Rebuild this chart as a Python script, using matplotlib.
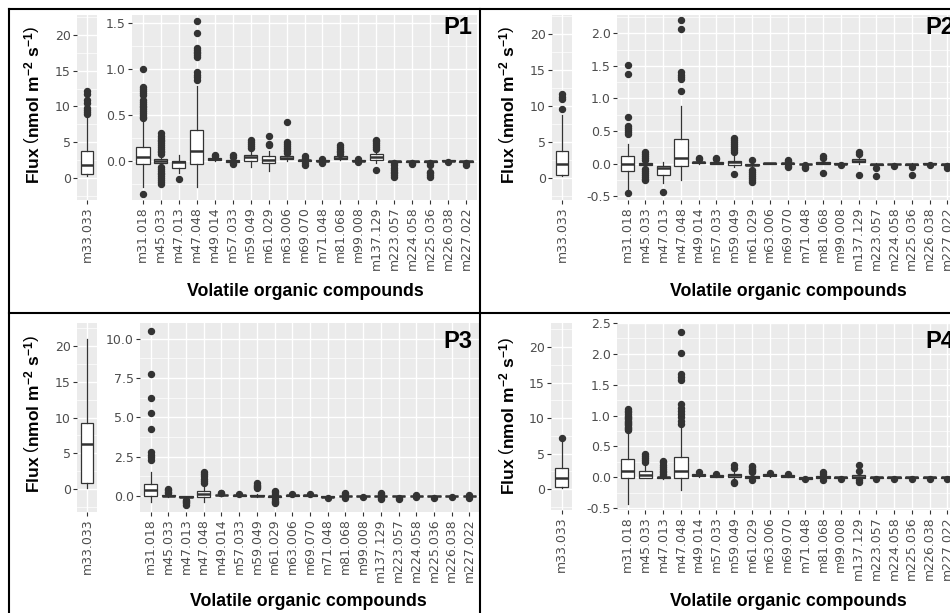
import matplotlib
matplotlib.use('Agg')
import matplotlib.pyplot as plt
from matplotlib.lines import Line2D
from matplotlib.ticker import FixedLocator, FormatStrFormatter

compounds = ['m31.018', 'm45.033', 'm47.013', 'm47.048', 'm49.014', 'm57.033',
             'm59.049', 'm61.029', 'm63.006', 'm69.070', 'm71.048', 'm81.068',
             'm99.008', 'm137.129', 'm223.057', 'm224.058', 'm225.036',
             'm226.038', 'm227.022']
small_cmp = ['m33.033']
panels = ['P1', 'P2', 'P3', 'P4']

# m33.033 box for each panel
m33_lo = [0.3, 0.3, 0.1, 0.2]
m33_q1 = [0.6, 0.4, 0.9, 0.3]
m33_med = [1.8, 2.0, 6.25, 1.5]
m33_q3 = [3.8, 3.8, 9.2, 2.9]
m33_hi = [8.5, 8.8, 20.9, 6.8]
m33_out = [[8.9, 9.2, 9.5, 9.8, 10.5, 10.9, 11.8, 12.2],
           [9.5, 11.0, 11.3, 11.6],
           [],
           [7.2]]

# P1
p1_lo = [-0.29, -0.05, -0.14, -0.29, 0.0, -0.02, -0.065, -0.11, 0.0, -0.01, -0.01, 0.01, -0.01, -0.03, -0.02, -0.02, -0.02, -0.01, -0.02]
p1_q1 = [-0.04, -0.025, -0.08, -0.04, 0.01, -0.01, 0.0, -0.03, 0.02, 0.0, -0.005, 0.02, -0.005, 0.01, -0.01, -0.01, -0.01, -0.005, -0.01]
p1_med = [0.035, 0.0, -0.02, 0.10, 0.015, 0.0, 0.035, 0.005, 0.03, 0.005, 0.0, 0.03, 0.0, 0.04, -0.005, 0.0, -0.005, 0.0, -0.005]
p1_q3 = [0.145, 0.02, -0.005, 0.33, 0.025, 0.01, 0.065, 0.05, 0.045, 0.01, 0.005, 0.045, 0.005, 0.075, 0.0, 0.0, 0.0, 0.005, 0.0]
p1_hi = [0.43, 0.05, 0.06, 0.82, 0.04, 0.03, 0.12, 0.11, 0.07, 0.02, 0.01, 0.05, 0.01, 0.12, 0.01, 0.01, 0.01, 0.01, 0.01]
p1_out = [
    [0.46, 0.48, 0.50, 0.52, 0.54, 0.56, 0.58, 0.60, 0.62, 0.64, 0.66, 0.72, 0.74, 0.76, 0.78, 0.80, 1.0, -0.36],
    [0.07, 0.09, 0.11, 0.13, 0.15, 0.17, 0.19, 0.21, 0.23, 0.25, 0.27, 0.30,
     -0.07, -0.09, -0.11, -0.13, -0.15, -0.17, -0.19, -0.21, -0.23, -0.25],
    [-0.2],
    [0.88, 0.91, 0.94, 0.97, 1.13, 1.15, 1.17, 1.19, 1.21, 1.23, 1.39, 1.52],
    [0.05, 0.06],
    [0.04, 0.06, -0.03, -0.04],
    [0.14, 0.16, 0.18, 0.20, 0.22],
    [0.17, 0.18, 0.27],
    [0.08, 0.10, 0.12, 0.14, 0.16, 0.18, 0.20, 0.42],
    [0.03, 0.05, -0.03, -0.05],
    [0.02, -0.02, -0.03],
    [0.07, 0.09, 0.11, 0.13, 0.15, 0.17],
    [0.02, -0.02],
    [0.13, 0.15, 0.17, 0.19, 0.21, 0.23, -0.10],
    [-0.03, -0.05, -0.08, -0.10, -0.12, -0.14, -0.16, -0.18],
    [-0.03, -0.04],
    [-0.03, -0.05, -0.12, -0.14, -0.16, -0.18],
    [-0.02],
    [-0.03, -0.05]]

# P2
p2_lo = [-0.42, -0.05, -0.30, -0.25, 0.0, -0.01, -0.06, -0.06, -0.005, -0.02, -0.02, -0.01, -0.02, 0.0, -0.04, -0.03, -0.04, -0.01, -0.03]
p2_q1 = [-0.11, -0.03, -0.18, -0.045, 0.01, 0.0, -0.03, -0.03, 0.0, -0.005, -0.01, 0.0, -0.01, 0.02, -0.02, -0.015, -0.02, -0.005, -0.02]
p2_med = [-0.015, 0.0, -0.07, 0.08, 0.02, 0.01, 0.02, -0.02, 0.005, 0.005, -0.005, 0.01, 0.0, 0.04, -0.01, -0.01, -0.01, 0.0, -0.01]
p2_q3 = [0.12, 0.005, -0.04, 0.37, 0.03, 0.02, 0.045, 0.0, 0.01, 0.01, 0.0, 0.02, 0.005, 0.07, 0.0, 0.0, 0.0, 0.005, 0.0]
p2_hi = [0.30, 0.04, 0.03, 0.88, 0.05, 0.04, 0.12, 0.03, 0.015, 0.03, 0.01, 0.04, 0.01, 0.10, 0.01, 0.01, 0.01, 0.01, 0.01]
p2_out = [
    [0.46, 0.49, 0.52, 0.55, 0.58, 0.72, 1.38, 1.51, -0.46],
    [0.06, 0.09, 0.12, 0.15, 0.18, -0.08, -0.11, -0.14, -0.17, -0.20, -0.23, -0.26],
    [-0.43],
    [1.12, 1.30, 1.33, 1.36, 1.40, 2.07, 2.20],
    [0.07, 0.08],
    [0.07, 0.08],
    [0.18, 0.21, 0.24, 0.27, 0.30, 0.33, 0.36, 0.39, -0.16],
    [0.05, -0.10, -0.13, -0.16, -0.19, -0.22, -0.25, -0.28],
    [],
    [0.04, 0.06, -0.04, -0.06],
    [-0.03, -0.05, -0.07],
    [0.08, 0.11, -0.14],
    [-0.03],
    [0.15, 0.18, -0.18],
    [-0.07, -0.19],
    [-0.04],
    [-0.06, -0.18],
    [-0.02],
    [-0.04, -0.07]]

# P3
p3_lo = [-0.36, -0.05, -0.15, -0.38, 0.0, 0.0, -0.05, -0.1, 0.0, 0.0, -0.1, -0.05, -0.04, -0.05, -0.06, -0.04, -0.05, -0.04, -0.05]
p3_q1 = [0.02, 0.0, -0.08, -0.04, 0.03, 0.02, 0.0, -0.04, 0.02, 0.02, -0.06, -0.02, -0.01, -0.02, -0.03, -0.01, -0.02, -0.01, -0.02]
p3_med = [0.38, 0.02, -0.04, 0.1, 0.05, 0.04, 0.02, -0.01, 0.04, 0.04, -0.04, 0.0, 0.0, 0.0, -0.02, 0.0, -0.01, 0.0, -0.01]
p3_q3 = [0.75, 0.06, -0.01, 0.32, 0.08, 0.06, 0.05, 0.0, 0.06, 0.06, -0.02, 0.02, 0.01, 0.02, 0.0, 0.01, 0.0, 0.01, 0.0]
p3_hi = [1.55, 0.12, 0.0, 0.75, 0.12, 0.09, 0.12, 0.05, 0.08, 0.08, 0.0, 0.05, 0.04, 0.05, 0.02, 0.04, 0.03, 0.03, 0.03]
p3_out = [
    [2.3, 2.45, 2.6, 2.8, 4.25, 5.3, 6.26, 7.75, 10.47],
    [0.2, 0.28, 0.36, 0.45],
    [-0.25, -0.32, -0.4, -0.47, -0.55],
    [0.85, 0.95, 1.05, 1.3, 1.42, 1.52],
    [0.16, 0.2],
    [0.12],
    [0.5, 0.58, 0.65, 0.72, 0.8],
    [0.15, 0.25, 0.3, -0.2, -0.3, -0.38, -0.45],
    [0.1],
    [0.12],
    [-0.12],
    [0.15, 0.22, -0.12],
    [-0.08],
    [0.12, 0.18, -0.12, -0.18],
    [-0.12, -0.2],
    [0.08, -0.06],
    [-0.15],
    [-0.08],
    [-0.1, 0.05]]

# P4
p4_lo = [-0.43, -0.01, -0.02, -0.21, 0.0, 0.0, -0.05, -0.03, 0.0, 0.0, -0.03, -0.02, -0.02, -0.03, -0.02, -0.02, -0.02, -0.02, -0.02]
p4_q1 = [-0.01, -0.005, -0.01, -0.01, 0.02, 0.01, 0.0, -0.01, 0.02, 0.01, -0.02, -0.01, -0.01, -0.01, -0.01, -0.01, -0.01, -0.01, -0.01]
p4_med = [0.097, 0.04, 0.0, 0.097, 0.03, 0.02, 0.03, 0.0, 0.03, 0.02, -0.01, 0.0, 0.0, 0.0, 0.0, 0.0, 0.0, 0.0, 0.0]
p4_q3 = [0.30, 0.097, 0.01, 0.33, 0.05, 0.04, 0.06, 0.02, 0.05, 0.03, 0.0, 0.02, 0.0, 0.03, 0.0, 0.0, 0.0, 0.0, 0.0]
p4_hi = [0.73, 0.22, 0.02, 0.84, 0.07, 0.05, 0.1, 0.05, 0.06, 0.04, 0.01, 0.04, 0.01, 0.06, 0.01, 0.01, 0.01, 0.01, 0.01]
p4_out = [
    [0.76, 0.78, 0.80, 0.82, 0.84, 0.86, 0.88, 0.90, 0.92, 0.94, 0.96, 0.98, 1.00, 1.02, 1.05, 1.08, 1.11],
    [0.25, 0.28, 0.31, 0.34, 0.37],
    [0.03, 0.05, 0.08, 0.11, 0.14, 0.17, 0.20, 0.24, 0.27],
    [0.87, 0.92, 0.97, 1.02, 1.07, 1.12, 1.19, 1.57, 1.62, 1.67, 2.02, 2.35],
    [0.08],
    [0.06],
    [0.15, 0.2, -0.08, -0.1],
    [0.08, 0.1, 0.12, 0.14, 0.16, 0.18, -0.05],
    [0.07],
    [0.05],
    [-0.03],
    [0.06, 0.09, -0.05],
    [-0.02],
    [0.1, 0.2, -0.05, -0.07],
    [-0.03],
    [-0.02],
    [-0.03],
    [-0.02],
    [-0.03]]

all_lo = [p1_lo, p2_lo, p3_lo, p4_lo]
all_q1 = [p1_q1, p2_q1, p3_q1, p4_q1]
all_med = [p1_med, p2_med, p3_med, p4_med]
all_q3 = [p1_q3, p2_q3, p3_q3, p4_q3]
all_hi = [p1_hi, p2_hi, p3_hi, p4_hi]
all_out = [p1_out, p2_out, p3_out, p4_out]

big_ticks = [[0, 0.5, 1.0, 1.5],
             [-0.5, 0, 0.5, 1.0, 1.5, 2.0],
             [0, 2.5, 5.0, 7.5, 10.0],
             [-0.5, 0, 0.5, 1.0, 1.5, 2.0, 2.5]]
small_ticks = [0, 5, 10, 15, 20]

plt.rcParams['font.family'] = 'DejaVu Sans'
plt.rcParams['mathtext.fontset'] = 'custom'
plt.rcParams['mathtext.rm'] = 'Liberation Sans'
plt.rcParams['mathtext.bf'] = 'Liberation Sans:bold'
plt.rcParams['mathtext.it'] = 'Liberation Sans:italic'

W, H = 950, 613
fig = plt.figure(figsize=(9.5, 6.13), dpi=100)


def add_ax(x0, y0, x1, y1):
    return fig.add_axes([x0 / W, 1 - y1 / H, (x1 - x0) / W, (y1 - y0) / H])


def minor_between(ticks, lo, hi):
    step = ticks[1] - ticks[0]
    vals = [ticks[0] - step / 2] + [t + step / 2 for t in ticks]
    return [v for v in vals if lo < v < hi]


def style(ax, labels, yticks, ylim, fmt):
    ax.set_facecolor('#EBEBEB')
    for s in ax.spines.values():
        s.set_visible(False)
    ax.set_xlim(0.4, len(labels) + 0.6)
    ax.set_ylim(*ylim)
    ax.set_xticks(range(1, len(labels) + 1))
    ax.set_xticklabels(labels, rotation=90)
    ax.yaxis.set_major_locator(FixedLocator(yticks))
    ax.yaxis.set_minor_locator(FixedLocator(minor_between(yticks, *ylim)))
    ax.yaxis.set_major_formatter(FormatStrFormatter(fmt))
    ax.grid(which='major', color='white', lw=1.0)
    ax.grid(which='minor', axis='y', color='white', lw=0.5)
    ax.set_axisbelow(True)
    ax.tick_params(which='major', length=3, width=0.8, color='#333333',
                   labelcolor='#4D4D4D', labelsize=9, pad=1.5)
    ax.tick_params(which='minor', length=0)


def draw_boxes(ax, lo, q1, med, q3, hi, out, labels):
    stats = []
    for i in range(len(labels)):
        stats.append({'whislo': lo[i], 'q1': q1[i], 'med': med[i], 'q3': q3[i],
                      'whishi': hi[i], 'fliers': out[i], 'label': labels[i]})
    ax.bxp(stats, widths=0.75, patch_artist=True, showcaps=False,
           boxprops=dict(facecolor='white', edgecolor='#333333', lw=0.9),
           medianprops=dict(color='#333333', lw=1.8),
           whiskerprops=dict(color='#333333', lw=0.9),
           flierprops=dict(marker='o', markerfacecolor='#333333',
                           markeredgecolor='#333333', markersize=4.3))


# pixel layout for each panel: small axes, big axes, limits, label spots
small_box = [(77, 15, 97, 200), (552, 15, 572, 200), (77, 323, 97, 512), (551, 323, 572, 510)]
big_box = [(132, 15, 477, 200), (617, 15, 958, 200), (140, 323, 480, 512), (617, 323, 958, 510)]
small_lim = [(-3.08, 22.8), (-3.05, 22.6), (-3.2, 23.2), (-2.96, 23.4)]
big_lim = [(-0.43, 1.59), (-0.56, 2.28), (-1.02, 11.0), (-0.53, 2.5)]
ylab_pos = [(33, 105), (508, 105), (33, 414), (508, 416)]
xlab_pos = [(305, 292), (788, 292), (308, 602), (788, 602)]
tag_pos = [(472, 27, 'right'), (925, 27, 'left'), (472, 342, 'right'), (925, 342, 'left')]

ylabel = r'Flux $\left(\mathbf{nmol\ m}^{\mathbf{-2}}\ \mathbf{s}^{\mathbf{-1}}\right)$'

for k in range(4):
    axs = add_ax(*small_box[k])
    draw_boxes(axs, [m33_lo[k]], [m33_q1[k]], [m33_med[k]], [m33_q3[k]],
               [m33_hi[k]], [m33_out[k]], small_cmp)
    style(axs, small_cmp, small_ticks, small_lim[k], '%d')

    axb = add_ax(*big_box[k])
    draw_boxes(axb, all_lo[k], all_q1[k], all_med[k], all_q3[k],
               all_hi[k], all_out[k], compounds)
    style(axb, compounds, big_ticks[k], big_lim[k], '%.1f')

    x, y = ylab_pos[k]
    fig.text(x / W, 1 - y / H, ylabel, rotation=90, ha='center', va='center',
             fontsize=12.5, fontweight='bold', family='Liberation Sans', color='black')
    x, y = xlab_pos[k]
    fig.text(x / W, 1 - y / H, 'Volatile organic compounds', ha='center', va='center',
             fontsize=12.8, fontweight='bold', family='Liberation Sans', color='black')
    x, y, ha = tag_pos[k]
    fig.text(x / W, 1 - y / H, panels[k], ha=ha, va='center', fontsize=17,
             fontweight='bold', family='Liberation Sans', color='black')

# panel borders
border = [((9, 950), (9, 9)), ((9, 950), (313, 313)), ((9, 9), (9, 613)), ((480, 480), (9, 613))]
for xs, ys in border:
    fig.add_artist(Line2D([xs[0] / W, xs[1] / W], [1 - ys[0] / H, 1 - ys[1] / H],
                          color='black', lw=1.5, transform=fig.transFigure))

fig.savefig('out.png', dpi=100)
